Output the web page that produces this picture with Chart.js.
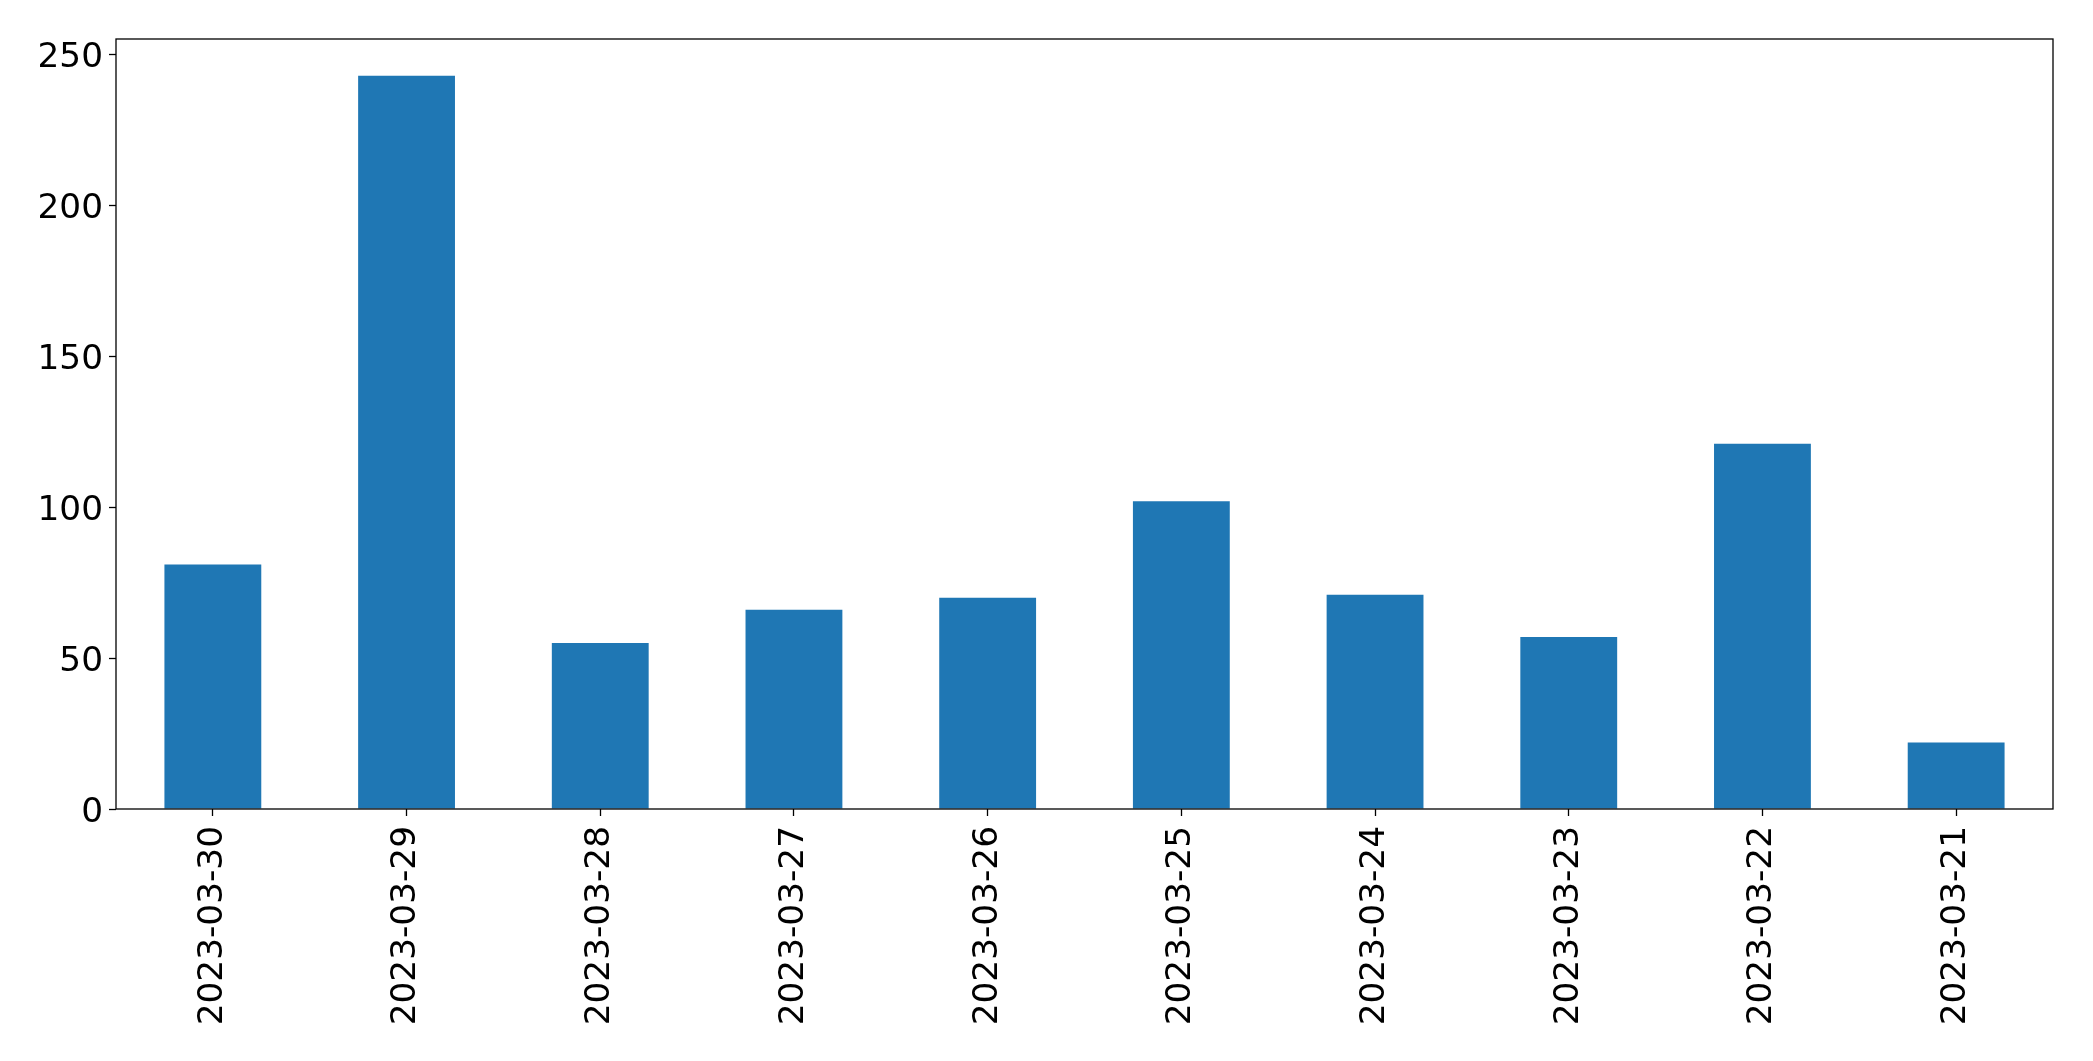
<!DOCTYPE html>
<html>
<head>
<meta charset="utf-8">
<script src="https://cdn.jsdelivr.net/npm/chart.js@4"></script>
<style>
  html, body { margin: 0; padding: 0; background: #fff; }
  #wrap { width: 2093px; height: 1061px; }
</style>
</head>
<body>
<div id="wrap"><canvas id="barChart"></canvas></div>
<script>
// data
const dates = ["2023-03-30", "2023-03-29", "2023-03-28", "2023-03-27", "2023-03-26",
               "2023-03-25", "2023-03-24", "2023-03-23", "2023-03-22", "2023-03-21"];
const counts = [81, 243, 55, 66, 70, 102, 71, 57, 121, 22];
const yTicks = [0, 50, 100, 150, 200, 250];

Chart.defaults.font.family = "'DejaVu Sans', sans-serif";
Chart.defaults.font.size = 34.3;
Chart.defaults.color = "#000";

// box around the plot area, like matplotlib spines
const frame = {
    id: "frame",
    afterDraw(chart) {
        const { ctx, chartArea: a } = chart;
        ctx.save();
        ctx.strokeStyle = "#000";
        ctx.lineWidth = 1.3;
        ctx.strokeRect(a.left, a.top, a.right - a.left, a.bottom - a.top);
        ctx.restore();
    }
};

new Chart(document.getElementById("barChart"), {
    type: "bar",
    data: {
        labels: dates,
        datasets: [{
            data: counts,
            backgroundColor: "#1f77b4",
            categoryPercentage: 1.0,
            barPercentage: 0.5
        }]
    },
    options: {
        responsive: true,
        maintainAspectRatio: false,
        animation: false,
        layout: { padding: { top: 39, right: 40, left: 0, bottom: 0 } },
        plugins: { legend: { display: false }, tooltip: { enabled: false } },
        scales: {
            x: {
                grid: { drawOnChartArea: false, offset: false, tickLength: 7, color: "#000", tickWidth: 1.3 },
                border: { display: false },
                ticks: { maxRotation: 90, minRotation: 90, padding: 10, autoSkip: false },
                afterFit(axis) { axis.height = 252; }
            },
            y: {
                min: 0,
                max: 255.15,
                grid: { drawOnChartArea: false, tickLength: 7, color: "#000", tickWidth: 1.3 },
                border: { display: false },
                ticks: { padding: 6, labelOffset: 4 },
                afterBuildTicks(axis) { axis.ticks = yTicks.map(v => ({ value: v })); },
                afterFit(axis) { axis.width = 116; }
            }
        }
    },
    plugins: [frame]
});
</script>
</body>
</html>
